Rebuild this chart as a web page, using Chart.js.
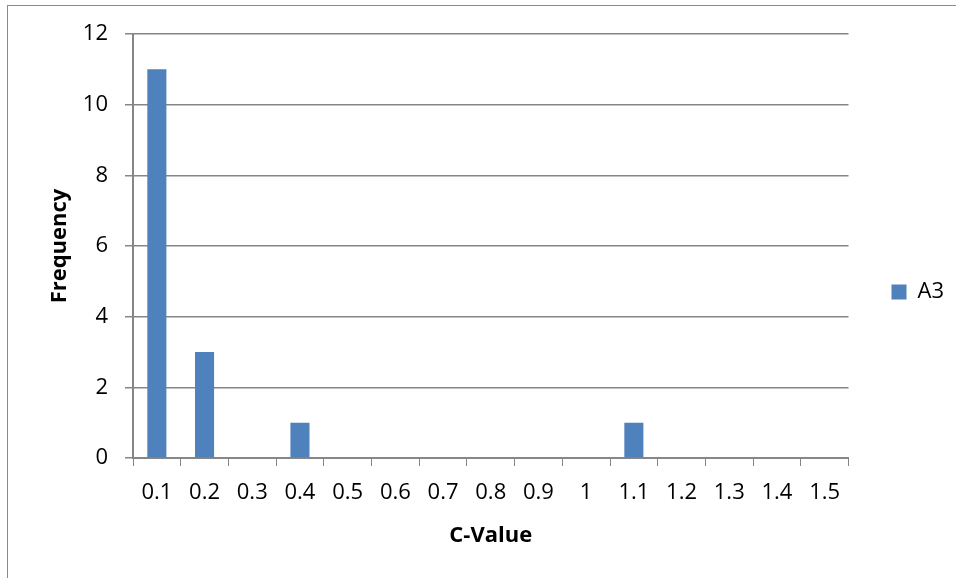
<!DOCTYPE html>
<html lang="en">
<head>
    <meta charset="UTF-8">
    <title>C-Value Frequency</title>
    <script src="https://cdn.jsdelivr.net/npm/chart.js"></script>
    <style>
        body { margin: 0; background: #fff; }
        #wrap { position: relative; width: 956px; height: 578px; overflow: hidden; }
        #frame { position: absolute; left: 7px; top: 5px; width: 1000px; height: 700px;
                 border-top: 1px solid #8a8a8a; border-left: 1px solid #8a8a8a; pointer-events: none; }
    </style>
</head>
<body>
    <div id="wrap">
        <canvas id="cvalueChart" width="956" height="578"></canvas>
        <div id="frame"></div>
    </div>

    <script>
        // categories on the x axis
        const cValues = ["0.1", "0.2", "0.3", "0.4", "0.5", "0.6", "0.7", "0.8", "0.9", "1", "1.1", "1.2", "1.3", "1.4", "1.5"];
        // frequency per category (series A3)
        const a3Counts = [11, 3, 0, 1, 0, 0, 0, 0, 0, 0, 1, 0, 0, 0, 0];
        const seriesName = "A3";

        const gridGray = "#868686";
        const fontFamily = "'Open Sans', sans-serif";

        new Chart(document.getElementById("cvalueChart"), {
            type: 'bar',
            data: {
                labels: cValues,
                datasets: [{
                    label: seriesName,
                    data: a3Counts,
                    backgroundColor: "#4F81BD",
                    barPercentage: 0.4,
                    categoryPercentage: 1.0
                }]
            },
            options: {
                responsive: false,
                animation: false,
                layout: { padding: { left: 0, right: 2, top: 34, bottom: 28 } },
                plugins: {
                    tooltip: { enabled: false },
                    legend: {
                        position: 'right',
                        labels: {
                            boxWidth: 15,
                            boxHeight: 15,
                            padding: 43,
                            color: "#000",
                            font: { family: fontFamily, size: 22 }
                        }
                    }
                },
                scales: {
                    x: {
                        offset: true,
                        grid: {
                            offset: true,
                            drawOnChartArea: false,
                            tickLength: 8,
                            color: gridGray
                        },
                        border: { color: gridGray, width: 2 },
                        ticks: {
                            color: "#000",
                            padding: 14,
                            maxRotation: 0,
                            autoSkip: false,
                            font: { family: fontFamily, size: 22 }
                        },
                        title: {
                            display: true,
                            text: "C-Value",
                            color: "#000",
                            padding: { top: 0, bottom: 1 },
                            font: { family: fontFamily, size: 22, weight: 'bold' }
                        },
                        afterFit: function (scale) { scale.height = 92; }
                    },
                    y: {
                        min: 0,
                        max: 12,
                        grid: {
                            color: gridGray,
                            lineWidth: 1.5,
                            tickLength: 8
                        },
                        border: { color: gridGray, width: 2 },
                        ticks: {
                            stepSize: 2,
                            color: "#000",
                            padding: 17,
                            font: { family: fontFamily, size: 22 }
                        },
                        title: {
                            display: true,
                            text: "Frequency",
                            color: "#000",
                            padding: { top: 47, bottom: 0 },
                            font: { family: fontFamily, size: 22, weight: 'bold' }
                        },
                        afterFit: function (scale) { scale.width = 133; }
                    }
                }
            }
        });
    </script>
</body>
</html>
